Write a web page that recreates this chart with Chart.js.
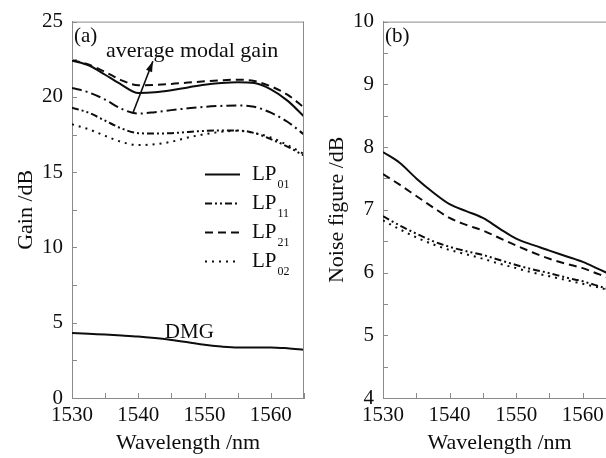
<!DOCTYPE html>
<html>
<head>
<meta charset="utf-8">
<script src="https://cdn.jsdelivr.net/npm/chart.js@4.4.1/dist/chart.umd.min.js"></script>
<style>
  html, body { margin: 0; padding: 0; background: #fff; overflow: hidden; width: 606px; height: 458px; }
  #gainChart { position: absolute; left: 0; top: 0; }
  #nfChart { position: absolute; left: 311px; top: 0; }
</style>
</head>
<body>
<canvas id="gainChart" width="310" height="458"></canvas>
<canvas id="nfChart" width="311" height="458"></canvas>
<script>
// wavelengths (nm)
const wavelengths = [1530, 1532.5, 1535, 1537.5, 1540, 1542.5, 1545, 1547.5, 1550, 1552.5, 1555, 1557.5, 1560, 1562.5, 1565];

// (a) gain, dB
const gainLP01 = [22.41, 22.1, 21.47, 20.8, 20.26, 20.3, 20.44, 20.63, 20.81, 20.92, 20.97, 20.92, 20.5, 19.75, 18.7];
const gainLP21 = [22.45, 22.15, 21.66, 21.1, 20.77, 20.8, 20.86, 20.95, 21.03, 21.1, 21.14, 21.05, 20.7, 20.15, 19.3];
const gainAvg  = [20.59, 20.3, 19.82, 19.2, 18.89, 18.98, 19.12, 19.24, 19.34, 19.4, 19.43, 19.34, 18.95, 18.35, 17.5];
const gainLP11 = [19.28, 18.95, 18.42, 17.9, 17.59, 17.57, 17.59, 17.67, 17.74, 17.77, 17.77, 17.6, 17.19, 16.7, 16.1];
const gainLP02 = [18.18, 17.85, 17.41, 17.0, 16.8, 16.85, 17.02, 17.3, 17.52, 17.68, 17.75, 17.6, 17.3, 16.8, 16.2];
const gainDMG  = [4.32, 4.26, 4.21, 4.15, 4.08, 3.98, 3.86, 3.7, 3.53, 3.42, 3.36, 3.36, 3.36, 3.3, 3.2];

// (b) noise figure, dB
const nfLP01 = [7.92, 7.75, 7.5, 7.28, 7.09, 6.98, 6.87, 6.7, 6.54, 6.44, 6.35, 6.26, 6.17, 6.05, 5.93];
const nfLP21 = [7.57, 7.4, 7.22, 7.04, 6.87, 6.76, 6.67, 6.55, 6.43, 6.32, 6.22, 6.14, 6.07, 5.97, 5.88];
const nfLP11 = [6.9, 6.75, 6.62, 6.5, 6.41, 6.34, 6.28, 6.2, 6.12, 6.05, 5.99, 5.92, 5.86, 5.78, 5.7];
const nfLP02 = [6.83, 6.69, 6.56, 6.45, 6.36, 6.29, 6.22, 6.14, 6.07, 6.0, 5.94, 5.88, 5.82, 5.76, 5.68];

const xTicks = [1530, 1540, 1550, 1560];
const gainTicks = [0, 5, 10, 15, 20, 25];
const nfTicks = [4, 5, 6, 7, 8, 9, 10];

const serif = '"Liberation Serif", "Times New Roman", serif';
const ink = '#0d0d0d';
const axisGray = '#8a8a8a';

const solid = [];
const dashed = [8, 5];
const dashDot = [10, 4, 2, 4];
const dashDotDot = [7, 3, 2, 3, 2, 3];
const dotted = [2, 5];

function pts(values) {
  return values.map((v, i) => ({ x: wavelengths[i], y: v }));
}

function line(label, values, dash) {
  return {
    label: label,
    data: pts(values),
    borderColor: ink,
    borderWidth: 2,
    borderDash: dash,
    pointRadius: 0,
    fill: false,
    cubicInterpolationMode: 'monotone'
  };
}

// box on top/right and inward tick marks on left/bottom
const frameTicks = {
  id: 'frameTicks',
  afterDraw(chart, args, opts) {
    const { ctx, chartArea: a, scales: { x, y } } = chart;
    ctx.save();
    ctx.strokeStyle = axisGray;
    ctx.lineWidth = 1;
    ctx.beginPath();
    ctx.moveTo(a.left, a.top + 0.5);
    ctx.lineTo(a.right, a.top + 0.5);
    if (opts.right) {
      ctx.moveTo(a.right - 0.5, a.top);
      ctx.lineTo(a.right - 0.5, a.bottom);
    }
    for (let v = y.min; v <= y.max + 1e-9; v += opts.yMinor) {
      const p = Math.round(y.getPixelForValue(v)) + 0.5;
      ctx.moveTo(a.left, p);
      ctx.lineTo(a.left + 5, p);
    }
    for (let v = x.min; v <= x.max + 1e-9; v += opts.xMinor) {
      const p = Math.round(x.getPixelForValue(v)) + 0.5;
      ctx.moveTo(p, a.bottom);
      ctx.lineTo(p, a.bottom - 5);
    }
    ctx.stroke();
    ctx.restore();
  }
};

// panel letters, legend with subscripts, arrow and labels
const notes = {
  id: 'notes',
  afterDraw(chart, args, opts) {
    const { ctx, chartArea: a, scales: { x, y } } = chart;
    ctx.save();
    ctx.fillStyle = ink;
    ctx.strokeStyle = ink;
    ctx.textBaseline = 'middle';
    ctx.font = '21px ' + serif;
    ctx.textAlign = 'left';
    ctx.fillText(opts.panel, a.left + 2, a.top + 15);

    if (opts.legend) {
      const rows = [['01', solid], ['11', dashDotDot], ['21', dashed], ['02', dotted]];
      rows.forEach((r, i) => {
        const cy = a.top + 153 + i * 29;
        ctx.lineWidth = 2;
        ctx.setLineDash(r[1]);
        ctx.beginPath();
        ctx.moveTo(a.left + 133, cy);
        ctx.lineTo(a.left + 168, cy);
        ctx.stroke();
        ctx.setLineDash([]);
        ctx.font = '21px ' + serif;
        ctx.fillText('LP', a.left + 180, cy);
        const w = ctx.measureText('LP').width;
        ctx.font = '12px ' + serif;
        ctx.fillText(r[0], a.left + 181 + w, cy + 10);
      });

      // average modal gain label + arrow
      ctx.font = '22px ' + serif;
      ctx.fillText('average modal gain', a.left + 34, a.top + 30);
      const x0 = x.getPixelForValue(1539.2), y0 = y.getPixelForValue(18.95);
      const x1 = x.getPixelForValue(1542.2), y1 = y.getPixelForValue(22.37);
      ctx.lineWidth = 1.6;
      ctx.beginPath();
      ctx.moveTo(x0, y0);
      ctx.lineTo(x1, y1);
      ctx.stroke();
      const ang = Math.atan2(y1 - y0, x1 - x0);
      ctx.beginPath();
      ctx.moveTo(x1, y1);
      ctx.lineTo(x1 - 11 * Math.cos(ang - 0.3), y1 - 11 * Math.sin(ang - 0.3));
      ctx.lineTo(x1 - 11 * Math.cos(ang + 0.3), y1 - 11 * Math.sin(ang + 0.3));
      ctx.closePath();
      ctx.fill();

      ctx.font = '21px ' + serif;
      ctx.textAlign = 'center';
      ctx.fillText('DMG', x.getPixelForValue(1547.7), y.getPixelForValue(4.36));
    }
    ctx.restore();
  }
};

function axes(yMin, yMax, yTickList, yTitle) {
  return {
    x: {
      type: 'linear',
      min: 1530,
      max: 1565,
      afterBuildTicks: s => { s.ticks = xTicks.map(v => ({ value: v })); },
      afterFit: s => { s.height = 60; },
      grid: { display: false, drawTicks: false },
      border: { display: true, color: axisGray, width: 1 },
      ticks: { color: ink, font: { family: serif, size: 21 }, padding: 5, maxRotation: 0, autoSkip: false,
               callback: v => String(v) },
      title: { display: true, text: 'Wavelength /nm', color: ink, font: { family: serif, size: 22 }, padding: { top: 0, bottom: 2 } }
    },
    y: {
      min: yMin,
      max: yMax,
      afterBuildTicks: s => { s.ticks = yTickList.map(v => ({ value: v })); },
      afterFit: s => { s.width = 72; },
      grid: { display: false, drawTicks: false },
      border: { display: true, color: axisGray, width: 1 },
      ticks: { color: ink, font: { family: serif, size: 21 }, padding: 9, callback: v => String(v) },
      title: { display: true, text: yTitle, color: ink, font: { family: serif, size: 22 }, padding: { top: 13, bottom: 0 } }
    }
  };
}

new Chart(document.getElementById('gainChart'), {
  type: 'line',
  data: {
    datasets: [
      line('LP01', gainLP01, solid),
      line('LP21', gainLP21, dashed),
      line('average modal gain', gainAvg, dashDot),
      line('LP11', gainLP11, dashDotDot),
      line('LP02', gainLP02, dotted),
      line('DMG', gainDMG, solid)
    ]
  },
  options: {
    responsive: false,
    animation: false,
    layout: { padding: { top: 18, right: 6, left: 0, bottom: 0 } },
    scales: axes(0, 25, gainTicks, 'Gain /dB'),
    plugins: {
      legend: { display: false },
      tooltip: { enabled: false },
      frameTicks: { right: true, yMinor: 2.5, xMinor: 5 },
      notes: { panel: '(a)', legend: true }
    }
  },
  plugins: [frameTicks, notes]
});

new Chart(document.getElementById('nfChart'), {
  type: 'line',
  data: {
    datasets: [
      line('LP01', nfLP01, solid),
      line('LP21', nfLP21, dashed),
      line('LP11', nfLP11, dashDotDot),
      line('LP02', nfLP02, dotted)
    ]
  },
  options: {
    responsive: false,
    animation: false,
    layout: { padding: { top: 19, right: 6, left: 0, bottom: 0 } },
    scales: axes(4, 10, nfTicks, 'Noise figure /dB'),
    plugins: {
      legend: { display: false },
      tooltip: { enabled: false },
      frameTicks: { right: true, yMinor: 0.5, xMinor: 5 },
      notes: { panel: '(b)', legend: false }
    }
  },
  plugins: [frameTicks, notes]
});
</script>
</body>
</html>
